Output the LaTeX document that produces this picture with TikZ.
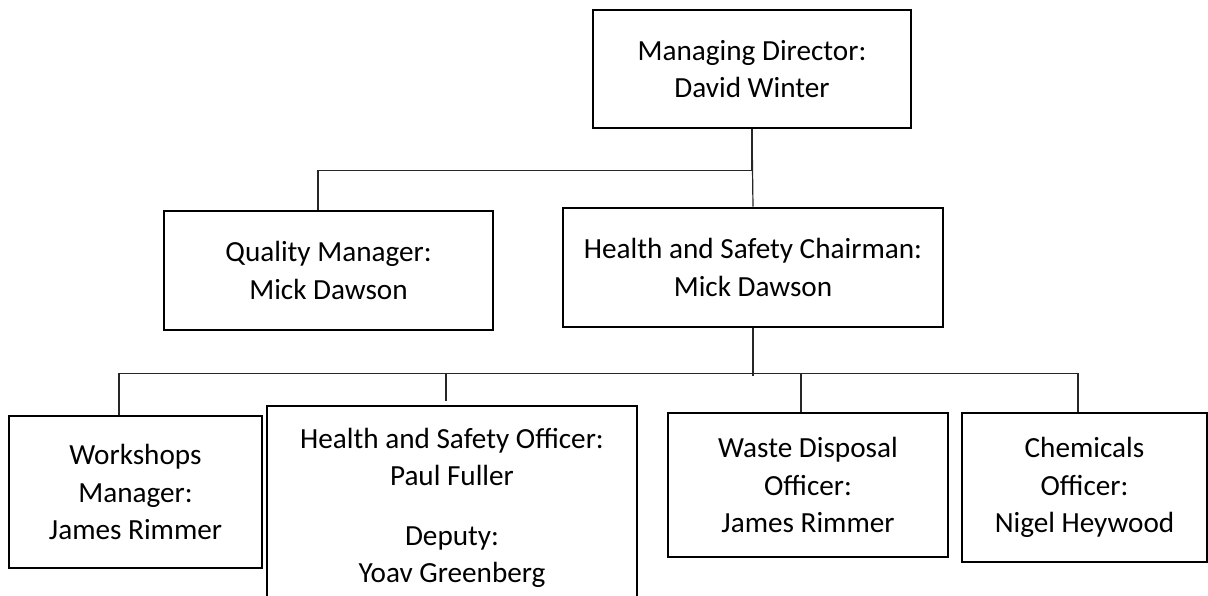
\documentclass[tikz,border=0pt]{standalone}
\usepackage{fontspec}
\setmainfont{Carlito}

\begin{document}
\begin{tikzpicture}[x=0.75pt,y=0.75pt,yscale=-1,xscale=1,
  box/.style={draw,line width=1.9pt,align=center,inner sep=0pt,font=\fontsize{21.9}{28}\selectfont},
  link/.style={draw=black!85,line width=0.9pt}]
\useasboundingbox (0,0) rectangle (1208,596);
\clip (0,0) rectangle (1208,596);
% boxes
\node [box,minimum width=238.5pt,minimum height=88.5pt] (md) at (752,69) {Managing Director:\\David Winter};
\node [box,minimum width=246.75pt,minimum height=89.25pt] (qm) at (328.5,270.5) {Quality Manager:\\Mick Dawson};
\node [box,minimum width=285pt,minimum height=89.25pt] (hsc) at (753,267.5) {Health and Safety Chairman:\\Mick Dawson};
\node [box,minimum width=189.75pt,minimum height=114pt] (wm) at (135.5,492) {Workshops\\Manager:\\James Rimmer};
\node [box,minimum width=277.5pt,minimum height=153pt] (hso) at (452,508) {Health and Safety Officer:\\Paul Fuller\\[17pt]Deputy:\\Yoav Greenberg};
\node [box,minimum width=210pt,minimum height=108pt] (wdo) at (808,485) {Waste Disposal\\Officer:\\James Rimmer};
\node [box,minimum width=183.75pt,minimum height=111.75pt] (chem) at (1084.5,487.5) {Chemicals\\Officer:\\Nigel Heywood};
% connectors
\draw [link] (md.south) -- (hsc.north);
\draw [link] ([xshift=-7.9pt]qm.north) -- ++(0,-39) -| (md.south);
\draw [link] (hsc.south) -- ++(0,48);
\draw [link] ([xshift=-12.4pt]wm.north) -- ++(0,-41) -| ([xshift=-4.9pt]chem.north);
\draw [link] ([xshift=-4.5pt]hso.north) ++(0,-4) -- ++(0,-27);
\draw [link] ([xshift=-5.25pt]wdo.north) -- ++(0,-38);
\end{tikzpicture}
\end{document}
